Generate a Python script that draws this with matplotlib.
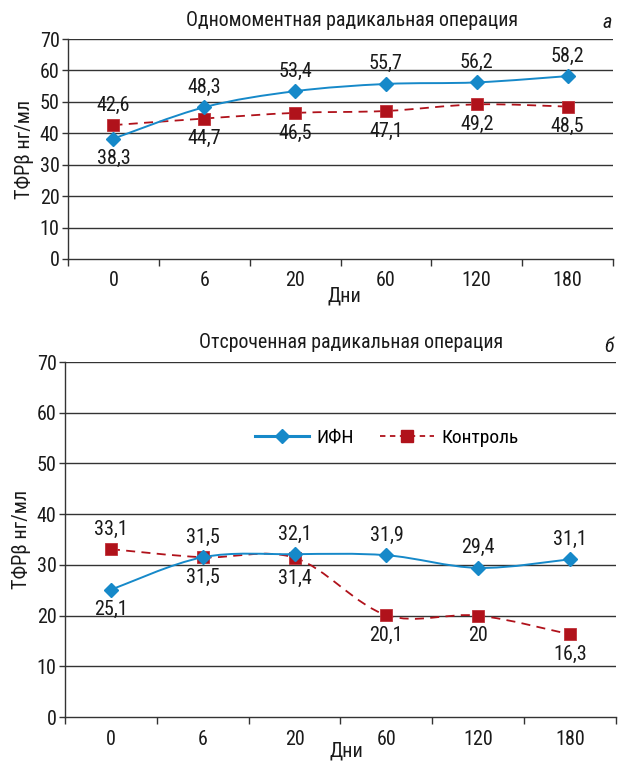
import numpy as np
import matplotlib
matplotlib.use("Agg")
import matplotlib.pyplot as plt
from matplotlib import font_manager as fm
from matplotlib.path import Path
from matplotlib.patches import PathPatch
from matplotlib.lines import Line2D


def has_font(name):
    try:
        fm.findfont(fm.FontProperties(family=name), fallback_to_default=False)
        return True
    except Exception:
        return False


CONDENSED = has_font("Roboto Condensed")
MAIN_FONT = "Roboto Condensed" if CONDENSED else "Roboto"
plt.rcParams['font.family'] = [MAIN_FONT, 'DejaVu Sans']

days = ["0", "6", "20", "60", "120", "180"]
yticks = [0, 10, 20, 30, 40, 50, 60, 70]

# Одномоментная радикальная операция
ifn_a = [38.3, 48.3, 53.4, 55.7, 56.2, 58.2]
ctrl_a = [42.6, 44.7, 46.5, 47.1, 49.2, 48.5]
ifn_a_pos = ["below", "above", "above", "above", "above", "above"]
ctrl_a_pos = ["above", "below", "below", "below", "below", "below"]

# Отсроченная радикальная операция
ifn_b = [25.1, 31.5, 32.1, 31.9, 29.4, 31.1]
ctrl_b = [33.1, 31.5, 31.4, 20.1, 20.0, 16.3]
ifn_b_pos = ["below", "below", "above", "above", "above", "above"]
ctrl_b_pos = ["above", "above", "below", "below", "below", "below"]

BLUE = "#1689c9"
RED = "#b0121b"
GRID = "#333333"
TXT = "#1a1a1a"
FS = 14.5 if CONDENSED else 13
TFS = 14.3 if CONDENSED else 12.5


def smooth_path(xs, ys):
    """Cubic Bezier path through the points (Catmull-Rom style smoothing)."""
    pts = np.column_stack([xs, ys]).astype(float)
    n = len(pts)
    verts = [pts[0]]
    codes = [Path.MOVETO]
    for i in range(n - 1):
        p0 = pts[i - 1] if i > 0 else pts[i]
        p1 = pts[i]
        p2 = pts[i + 1]
        p3 = pts[i + 2] if i + 2 < n else pts[i + 1]
        verts += [p1 + (p2 - p0) / 6.0, p2 - (p3 - p1) / 6.0, p2]
        codes += [Path.CURVE4] * 3
    return Path(verts, codes)


def fmt(v):
    s = f"{v:.1f}".replace(".", ",")
    return s[:-2] if s.endswith(",0") else s


def draw_panel(ax, ifn, ctrl, ifn_pos, ctrl_pos):
    x = np.arange(len(days))
    ax.set_xlim(-0.5, len(days) - 0.5)
    ax.set_ylim(0, 70)
    ax.set_yticks(yticks)
    ax.set_yticklabels([str(t) for t in yticks])
    for t in yticks[1:]:
        ax.axhline(t, color=GRID, lw=1.0, zorder=1)

    ax.add_patch(PathPatch(smooth_path(x, ctrl), fill=False, edgecolor=RED,
                           lw=1.3, linestyle=(0, (5, 3.5)), zorder=2))
    ax.add_patch(PathPatch(smooth_path(x, ifn), fill=False, edgecolor=BLUE,
                           lw=1.4, zorder=3))
    ax.plot(x, ctrl, linestyle="none", marker="s", markersize=9,
            color=RED, markeredgecolor="#c03038", markeredgewidth=0.6, zorder=4)
    ax.plot(x, ifn, linestyle="none", marker="D", markersize=7.5,
            color=BLUE, markeredgecolor=BLUE, zorder=5)

    for vals, pos in ((ifn, ifn_pos), (ctrl, ctrl_pos)):
        for xi, v, p in zip(x, vals, pos):
            dy = 14.5 if p == "above" else -14.5
            ax.annotate(fmt(v), (xi, v), xytext=(0, dy), textcoords="offset points",
                        ha="center", va="center", fontsize=FS, color=TXT, zorder=6)

    ax.set_xticks(x)
    ax.set_xticklabels(days)
    ax.set_xticks(np.arange(-0.5, len(days)), minor=True)
    ax.tick_params(axis="x", which="major", length=0, pad=9, labelsize=FS, colors=TXT)
    ax.tick_params(axis="x", which="minor", length=5, width=1.0, color=GRID, direction="out")
    ax.tick_params(axis="y", length=4, width=1.0, color=GRID, pad=2, labelsize=FS,
                   labelcolor=TXT)
    for s in ("top", "right"):
        ax.spines[s].set_visible(False)
    for s in ("left", "bottom"):
        ax.spines[s].set_color(GRID)
        ax.spines[s].set_linewidth(1.0)
    ax.set_ylabel("ТФРβ нг/мл", fontsize=FS, color=TXT, labelpad=4)


fig = plt.figure(figsize=(6.2, 7.61), dpi=100)

ax1 = fig.add_axes([0.1097, 0.6597, 0.879, 0.289])
draw_panel(ax1, ifn_a, ctrl_a, ifn_a_pos, ctrl_a_pos)

ax2 = fig.add_axes([0.1048, 0.0578, 0.8887, 0.4665])
draw_panel(ax2, ifn_b, ctrl_b, ifn_b_pos, ctrl_b_pos)

fig.text(352 / 620, 1 - 20 / 761, "Одномоментная радикальная операция",
         ha="center", va="center", fontsize=TFS, color=TXT)
fig.text(612 / 620, 1 - 22 / 761, "а", ha="right", va="center",
         fontsize=FS, style="italic", color=TXT)
fig.text(351 / 620, 1 - 343 / 761, "Отсроченная радикальная операция",
         ha="center", va="center", fontsize=TFS, color=TXT)
fig.text(614 / 620, 1 - 346 / 761, "б", ha="right", va="center",
         fontsize=FS, style="italic", color=TXT)
fig.text(344 / 620, 1 - 296 / 761, "Дни", ha="center", va="center",
         fontsize=FS, color=TXT)
fig.text(346 / 620, 1 - 751 / 761, "Дни", ha="center", va="center",
         fontsize=FS, color=TXT)

handles = [
    Line2D([], [], color=BLUE, lw=2.2, marker="D", markersize=7.5, label="ИФН"),
    Line2D([], [], color=RED, lw=1.3, linestyle=(0, (3, 2.5)), marker="s",
           markersize=9, label="Контроль"),
]
ax2.legend(handles=handles, loc="center", bbox_to_anchor=(0.584, 0.786), ncol=2,
           frameon=False, fontsize=14, handlelength=2.8, columnspacing=1.3,
           handletextpad=0.4)

fig.savefig("out.png", dpi=100)
